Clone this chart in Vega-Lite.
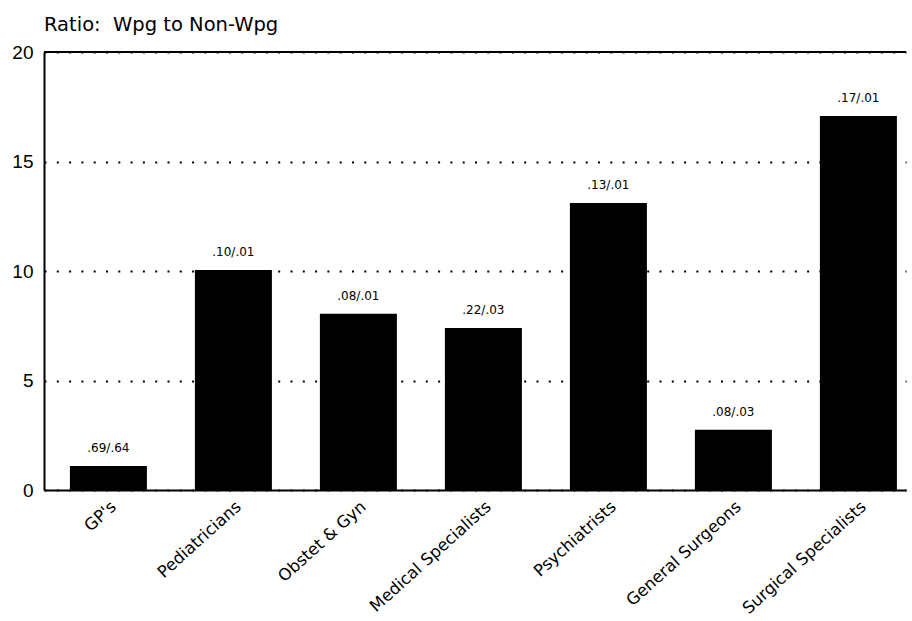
{
  "$schema": "https://vega.github.io/schema/vega-lite/v6.json",
  "width": 862,
  "height": 438,
  "padding": {"left": 11, "top": 14, "right": 0, "bottom": 0},
  "background": "white",
  "title": {
    "text": "Ratio:\u00a0\u00a0Wpg to Non-Wpg",
    "anchor": "start",
    "frame": "group",
    "font": "DejaVu Sans",
    "fontSize": 19.5,
    "fontWeight": "normal",
    "color": "black",
    "offset": 8
  },
  "config": {"view": {"stroke": null}},
  "data": {
    "values": [
      {"specialty": "GP's", "ratio": 1.1, "label": ".69/.64"},
      {"specialty": "Pediatricians", "ratio": 10.05, "label": ".10/.01"},
      {"specialty": "Obstet & Gyn", "ratio": 8.05, "label": ".08/.01"},
      {"specialty": "Medical Specialists", "ratio": 7.4, "label": ".22/.03"},
      {"specialty": "Psychiatrists", "ratio": 13.1, "label": ".13/.01"},
      {"specialty": "General Surgeons", "ratio": 2.75, "label": ".08/.03"},
      {"specialty": "Surgical Specialists", "ratio": 17.08, "label": ".17/.01"}
    ]
  },
  "encoding": {
    "x": {
      "field": "specialty",
      "type": "nominal",
      "sort": null,
      "scale": {"paddingInner": 0.384, "paddingOuter": 0.14, "align": 0.74},
      "axis": {
        "title": null,
        "ticks": false,
        "domainColor": "black",
        "domainWidth": 2,
        "labelAngle": -42,
        "labelFont": "DejaVu Sans",
        "labelFontSize": 16.5,
        "labelColor": "black",
        "labelPadding": 8
      }
    },
    "y": {
      "field": "ratio",
      "type": "quantitative",
      "scale": {"domain": [0, 20], "nice": false},
      "axis": {
        "title": null,
        "values": [0, 5, 10, 15, 20],
        "ticks": false,
        "domainColor": "black",
        "domainWidth": 2,
        "labelFont": "Liberation Sans",
        "labelFontSize": 19,
        "labelColor": "black",
        "labelPadding": 11,
        "grid": true,
        "gridColor": "black",
        "gridWidth": 2,
        "gridDash": [2, 10.3],
        "gridOpacity": 1
      }
    }
  },
  "layer": [
    {"mark": {"type": "bar", "color": "black"}},
    {
      "mark": {"type": "text", "font": "DejaVu Sans", "fontSize": 12, "baseline": "bottom", "dy": -11, "color": "black"},
      "encoding": {"text": {"field": "label"}}
    },
    {
      "data": {"values": [{"top": 20}]},
      "mark": {"type": "rule", "color": "black", "strokeWidth": 2},
      "encoding": {"x": null, "y": {"field": "top", "type": "quantitative"}}
    }
  ]
}
